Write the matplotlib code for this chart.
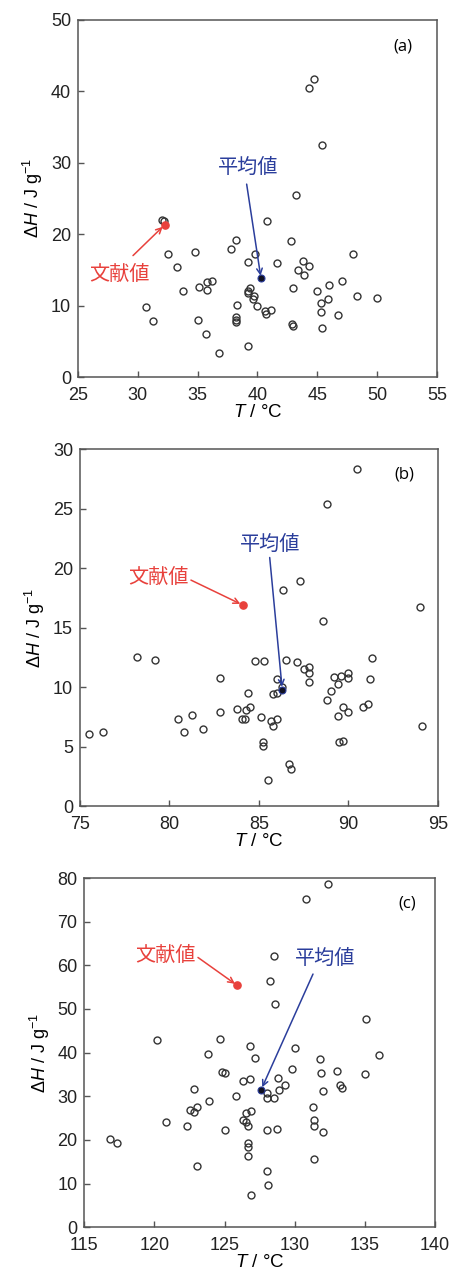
import matplotlib
matplotlib.use("Agg")
import matplotlib.pyplot as plt

plt.rcParams['font.family'] = ['Liberation Sans', 'Noto Sans CJK JP', 'DejaVu Sans']
plt.rcParams['mathtext.fontset'] = 'custom'
plt.rcParams['mathtext.rm'] = 'Liberation Sans'
plt.rcParams['mathtext.it'] = 'Liberation Sans:italic'

# ---- panel (a) data ----
a_T = [32.0, 32.2, 32.5, 33.3, 33.8, 30.7, 31.3, 34.8, 35.1, 35.8, 36.2, 35.8, 35.0,
       35.7, 36.8, 37.8, 38.2, 38.3, 38.2, 38.2, 38.2, 39.2, 39.2, 39.8, 39.4, 39.2,
       39.2, 39.7, 39.6, 40.0, 40.6, 40.7, 41.1, 40.8, 41.6, 43.2, 42.8, 43.0, 42.9,
       43.0, 43.4, 43.8, 44.3, 43.9, 45.0, 45.3, 45.3, 45.4, 46.0, 45.9, 46.7, 47.1,
       48.0, 48.3, 50.0, 44.35, 44.7, 45.4]
a_H = [22.0, 21.8, 17.2, 15.4, 12.1, 9.8, 7.8, 17.5, 12.6, 13.3, 13.5, 12.2, 8.0,
       6.0, 3.3, 17.9, 19.2, 10.1, 8.4, 8.0, 7.7, 4.4, 16.1, 17.2, 12.5, 12.1,
       11.8, 11.3, 10.9, 9.9, 9.2, 8.8, 9.4, 21.8, 15.9, 25.5, 19.0, 12.5, 7.4,
       7.1, 15.0, 16.3, 15.6, 14.3, 12.0, 10.4, 9.1, 6.8, 12.9, 10.9, 8.7, 13.4,
       17.2, 11.3, 11.1, 40.4, 41.7, 32.5]
a_lit = (32.25, 21.3)
a_mean = (40.3, 13.8)

# ---- panel (b) data ----
b_T = [75.5, 76.3, 78.2, 79.2, 80.5, 80.8, 81.25, 81.9, 82.8, 82.8, 83.8, 84.3, 84.5,
       84.06, 84.2, 84.4, 84.8, 85.3, 85.1, 85.2, 85.2, 85.5, 85.7, 85.8, 86.0, 85.8,
       86.0, 86.0, 86.3, 86.5, 86.7, 86.8, 87.1, 87.5, 87.8, 87.8, 87.8, 88.6, 88.8,
       89.0, 89.2, 89.4, 89.6, 90.0, 90.0, 89.4, 89.7, 90.0, 89.45, 89.7, 90.8, 91.1,
       91.2, 91.3, 94.0, 94.1, 90.5, 88.8, 86.35, 87.3]
b_H = [6.1, 6.25, 12.5, 12.3, 7.3, 6.2, 7.65, 6.5, 10.8, 7.9, 8.15, 8.05, 8.3,
       7.3, 7.3, 9.5, 12.2, 12.2, 7.5, 5.35, 5.05, 2.2, 7.15, 6.75, 7.3, 9.4,
       9.5, 10.7, 10.0, 12.3, 3.5, 3.1, 12.1, 11.5, 11.7, 11.15, 10.45, 15.6, 8.9,
       9.7, 10.85, 10.25, 10.95, 11.2, 10.75, 7.55, 8.35, 7.95, 5.4, 5.5, 8.3, 8.55,
       10.7, 12.45, 16.7, 6.7, 28.35, 25.4, 18.2, 18.9]
b_lit = (84.1, 16.9)
b_mean = (86.3, 9.8)

# ---- panel (c) data ----
c_T = [116.8, 117.3, 120.2, 120.8, 122.3, 122.5, 122.8, 123.0, 122.8, 123.0, 123.9,
       123.8, 124.7, 124.8, 125.0, 125.0, 125.8, 126.3, 126.8, 126.8, 127.2, 126.9,
       126.5, 126.3, 126.5, 126.7, 126.7, 126.7, 126.7, 126.9, 128.0, 128.0, 128.5,
       128.0, 128.7, 128.0, 128.1, 128.8, 128.9, 129.3, 129.8, 130.0, 131.3, 131.4,
       131.4, 131.4, 131.8, 131.9, 132.0, 132.0, 133.0, 133.2, 133.4, 135.0, 136.0,
       132.4, 130.8, 128.5, 128.2, 128.6, 135.1]
c_H = [20.3, 19.3, 42.8, 24.1, 23.2, 26.9, 26.4, 27.6, 31.7, 14.1, 28.9,
       39.8, 43.1, 35.5, 35.3, 22.25, 30.0, 33.6, 33.9, 41.5, 38.8, 26.6,
       26.1, 24.6, 24.2, 23.1, 19.3, 18.3, 16.4, 7.5, 30.7, 29.6, 29.7,
       22.2, 22.55, 12.9, 9.7, 34.2, 31.4, 32.5, 36.2, 41.0, 27.5, 24.6,
       23.2, 15.6, 38.5, 35.3, 31.3, 21.8, 35.9, 32.5, 32.0, 35.0, 39.5,
       78.7, 75.2, 62.25, 56.4, 51.2, 47.6]
c_lit = (125.9, 55.4)
c_mean = (127.6, 31.5)

RED = '#e8413c'
BLUE = '#2b3e9c'
FRAME = '#555555'

panels = [
    dict(T=a_T, H=a_H, lit=a_lit, mean=a_mean, xlim=(25, 55), ylim=(0, 50),
         xt=range(25, 56, 5), yt=range(0, 51, 10), tag='(a)', tagpos=(0.905, 0.925),
         lit_txt=(28.5, 14.3), lit_start=(29.6, 17.0),
         mean_txt=(39.2, 29.3), mean_start=(39.1, 27.0),
         pos=[0.171, 0.7045, 0.787, 0.280]),
    dict(T=b_T, H=b_H, lit=b_lit, mean=b_mean, xlim=(75, 95), ylim=(0, 30),
         xt=range(75, 96, 5), yt=range(0, 31, 5), tag='(b)', tagpos=(0.905, 0.928),
         lit_txt=(79.4, 19.2), lit_start=(81.2, 19.0),
         mean_txt=(85.6, 22.0), mean_start=(85.6, 20.9),
         pos=[0.1754, 0.3683, 0.785, 0.2796]),
    dict(T=c_T, H=c_H, lit=c_lit, mean=c_mean, xlim=(115, 140), ylim=(0, 80),
         xt=range(115, 141, 5), yt=range(0, 81, 10), tag='(c)', tagpos=(0.92, 0.926),
         lit_txt=(120.75, 62.2), lit_start=(123.1, 61.8),
         mean_txt=(132.2, 61.6), mean_start=(131.3, 58.0),
         pos=[0.185, 0.0382, 0.769, 0.2737]),
]

fig = plt.figure(figsize=(4.56, 12.76), dpi=100)

for p in panels:
    ax = fig.add_axes(p['pos'])
    ax.plot(p['T'], p['H'], 'o', ms=5.0, mfc='none', mec='#333333', mew=1.0, zorder=3)
    ax.plot(*p['lit'], 'o', ms=5.2, mfc=RED, mec=RED, zorder=4)
    ax.plot(*p['mean'], 'o', ms=5.0, mfc='#111122', mec=BLUE, mew=0.8, zorder=4)

    ax.set_xlim(p['xlim'])
    ax.set_ylim(p['ylim'])
    ax.set_xticks(list(p['xt']))
    ax.set_yticks(list(p['yt']))
    ax.tick_params(direction='in', length=4, width=1, color=FRAME,
                   labelsize=13, labelcolor='#222222')
    ax.tick_params(axis='x', pad=7)
    ax.tick_params(axis='y', pad=5)
    for s in ax.spines.values():
        s.set_color(FRAME)
        s.set_linewidth(1.1)

    ax.set_xlabel(r'$\mathit{T}$ / °C', fontsize=13.5, labelpad=0)
    ax.set_ylabel(r'$\Delta\mathit{H}$ / J g$^{-1}$', fontsize=13, labelpad=4)

    ax.text(*p['tagpos'], p['tag'], transform=ax.transAxes, fontsize=12,
            ha='center', va='center', family=['Open Sans', 'DejaVu Sans'])

    ax.text(*p['lit_txt'], '文献値', color=RED, fontsize=14.5, ha='center', va='center',
            family=['Noto Sans CJK JP', 'DejaVu Sans'])
    ax.annotate('', xy=p['lit'], xytext=p['lit_start'],
                arrowprops=dict(arrowstyle='->', color=RED, lw=1.1,
                                shrinkA=0, shrinkB=2, mutation_scale=10))

    ax.text(*p['mean_txt'], '平均値', color=BLUE, fontsize=14.5, ha='center', va='center',
            family=['Noto Sans CJK JP', 'DejaVu Sans'])
    ax.annotate('', xy=p['mean'], xytext=p['mean_start'],
                arrowprops=dict(arrowstyle='->', color=BLUE, lw=1.1,
                                shrinkA=0, shrinkB=2, mutation_scale=10))

fig.savefig('out.png', dpi=100)
